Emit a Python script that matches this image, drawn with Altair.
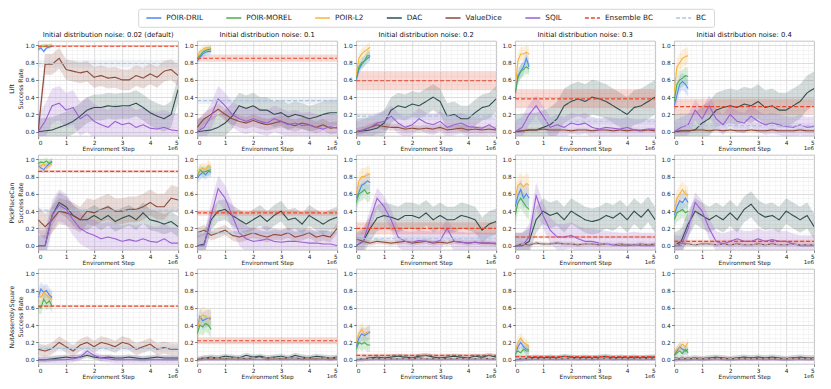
import altair as alt
import pandas as pd

FONT = "DejaVu Sans"
TASKS = ["Lift", "PickPlaceCan", "NutAssemblySquare"]
NOISES = ["0.02 (default)", "0.1", "0.2", "0.3", "0.4"]
SERIES = ["POIR-DRIL", "POIR-MOREL", "POIR-L2", "DAC", "ValueDice", "SQIL", "Ensemble BC", "BC"]
COLORS = ["#4f86f7", "#4cae4c", "#f8b341", "#2f4f4f", "#8c4a3b", "#9b5fd4", "#e8472d", "#b0c4de"]

X_LONG = [0.0, 0.25, 0.5, 0.75, 1.0, 1.25, 1.5, 1.75, 2.0, 2.25, 2.5, 2.75,
          3.0, 3.25, 3.5, 3.75, 4.0, 4.25, 4.5, 4.75, 5.0]
X_POIR = [0.0, 0.1, 0.2, 0.3, 0.4, 0.5]
X_FLAT = [0.0, 5.0]
X_TICKS = [0, 1, 2, 3, 4, 5]
Y_TICKS = [0.0, 0.2, 0.4, 0.6, 0.8, 1.0]
X_MINOR = [0.2, 0.4, 0.6, 0.8, 1.2, 1.4, 1.6, 1.8, 2.2, 2.4, 2.6, 2.8,
           3.2, 3.4, 3.6, 3.8, 4.2, 4.4, 4.6, 4.8]
Y_MINOR = [-0.05, 0.05, 0.1, 0.15, 0.25, 0.3, 0.35, 0.45, 0.5, 0.55, 0.65, 0.7,
           0.75, 0.85, 0.9, 0.95, 1.05]

# ---------------- Lift ----------------
LIFT_POIR_DRIL = [
    [0.95, 0.97, 0.93, 0.97, 0.98, 0.99],
    [0.82, 0.86, 0.90, 0.92, 0.93, 0.93],
    [0.60, 0.72, 0.78, 0.82, 0.85, 0.87],
    [0.45, 0.65, 0.70, 0.75, 0.85, 0.75],
    [0.30, 0.42, 0.55, 0.58, 0.55, 0.50],
]
LIFT_POIR_MOREL = [
    [0.98, 0.99, 0.99, 1.00, 0.99, 1.00],
    [0.85, 0.88, 0.92, 0.94, 0.95, 0.96],
    [0.62, 0.75, 0.80, 0.82, 0.88, 0.88],
    [0.45, 0.62, 0.70, 0.72, 0.75, 0.73],
    [0.35, 0.55, 0.60, 0.62, 0.65, 0.64],
]
LIFT_POIR_L2 = [
    [0.97, 0.99, 1.00, 0.99, 1.00, 1.00],
    [0.86, 0.93, 0.95, 0.97, 0.97, 0.97],
    [0.65, 0.85, 0.90, 0.93, 0.95, 0.98],
    [0.50, 0.82, 0.90, 0.90, 0.92, 0.90],
    [0.45, 0.75, 0.80, 0.85, 0.87, 0.88],
]
LIFT_DAC = [
    [0.00, 0.01, 0.02, 0.05, 0.08, 0.12, 0.18, 0.25, 0.28, 0.28, 0.30, 0.29, 0.30, 0.30, 0.33, 0.28, 0.22, 0.18, 0.15, 0.20, 0.49],
    [0.00, 0.01, 0.02, 0.05, 0.10, 0.18, 0.30, 0.27, 0.30, 0.25, 0.25, 0.20, 0.22, 0.17, 0.20, 0.18, 0.15, 0.17, 0.20, 0.22, 0.22],
    [0.00, 0.01, 0.02, 0.04, 0.10, 0.25, 0.30, 0.28, 0.32, 0.30, 0.35, 0.40, 0.35, 0.18, 0.20, 0.15, 0.15, 0.22, 0.28, 0.30, 0.38],
    [0.00, 0.01, 0.02, 0.02, 0.05, 0.08, 0.15, 0.30, 0.35, 0.38, 0.35, 0.40, 0.38, 0.35, 0.30, 0.25, 0.20, 0.28, 0.30, 0.35, 0.40],
    [0.00, 0.01, 0.01, 0.02, 0.10, 0.15, 0.25, 0.28, 0.30, 0.28, 0.32, 0.30, 0.35, 0.28, 0.30, 0.25, 0.25, 0.30, 0.35, 0.45, 0.50],
]
LIFT_VALUEDICE = [
    [0.00, 0.78, 0.78, 0.85, 0.72, 0.70, 0.68, 0.70, 0.63, 0.65, 0.62, 0.63, 0.60, 0.60, 0.65, 0.62, 0.67, 0.63, 0.70, 0.72, 0.65],
    [0.05, 0.15, 0.20, 0.26, 0.20, 0.15, 0.12, 0.10, 0.13, 0.10, 0.08, 0.10, 0.12, 0.09, 0.07, 0.10, 0.08, 0.05, 0.08, 0.04, 0.05],
    [0.00, 0.02, 0.05, 0.08, 0.06, 0.05, 0.05, 0.03, 0.04, 0.03, 0.04, 0.03, 0.05, 0.02, 0.03, 0.04, 0.02, 0.03, 0.02, 0.03, 0.02],
    [0.00, 0.01, 0.02, 0.02, 0.03, 0.02, 0.02, 0.02, 0.01, 0.02, 0.02, 0.01, 0.02, 0.02, 0.01, 0.02, 0.01, 0.02, 0.01, 0.02, 0.01],
    [0.00, 0.01, 0.01, 0.02, 0.02, 0.01, 0.02, 0.01, 0.02, 0.01, 0.01, 0.02, 0.01, 0.01, 0.02, 0.01, 0.01, 0.01, 0.02, 0.01, 0.01],
]
LIFT_SQIL = [
    [0.00, 0.12, 0.30, 0.33, 0.25, 0.28, 0.15, 0.20, 0.12, 0.08, 0.05, 0.12, 0.08, 0.10, 0.05, 0.08, 0.04, 0.03, 0.05, 0.02, 0.01],
    [0.00, 0.05, 0.18, 0.38, 0.30, 0.20, 0.15, 0.12, 0.15, 0.12, 0.10, 0.15, 0.12, 0.08, 0.10, 0.07, 0.08, 0.05, 0.03, 0.06, 0.04],
    [0.00, 0.02, 0.05, 0.10, 0.12, 0.18, 0.10, 0.05, 0.08, 0.15, 0.10, 0.08, 0.12, 0.05, 0.08, 0.10, 0.06, 0.05, 0.04, 0.08, 0.03],
    [0.00, 0.05, 0.20, 0.30, 0.18, 0.05, 0.08, 0.05, 0.10, 0.08, 0.10, 0.05, 0.03, 0.05, 0.04, 0.03, 0.05, 0.02, 0.02, 0.03, 0.03],
    [0.00, 0.05, 0.08, 0.25, 0.15, 0.30, 0.15, 0.08, 0.20, 0.12, 0.10, 0.18, 0.12, 0.08, 0.10, 0.08, 0.06, 0.05, 0.08, 0.05, 0.06],
]
LIFT_ENSEMBLE_BC = [0.99, 0.85, 0.59, 0.38, 0.29]
LIFT_BC = [0.79, 0.36, 0.18, 0.12, 0.07]
LIFT_SPREAD_POIR = [0.02, 0.04, 0.06, 0.08, 0.10]
LIFT_SPREAD_DAC = [0.15, 0.15, 0.15, 0.20, 0.20]
LIFT_SPREAD_VALUEDICE = [0.12, 0.07, 0.04, 0.02, 0.02]
LIFT_SPREAD_SQIL = [0.20, 0.15, 0.12, 0.12, 0.12]
LIFT_SPREAD_ENSEMBLE_BC = [0.01, 0.04, 0.11, 0.11, 0.09]
LIFT_SPREAD_BC = [0.04, 0.04, 0.04, 0.04, 0.03]

# ---------------- PickPlaceCan ----------------
PICK_POIR_DRIL = [
    [0.93, 0.90, 0.88, 0.92, 0.95, 0.97],
    [0.78, 0.82, 0.85, 0.82, 0.86, 0.85],
    [0.55, 0.62, 0.70, 0.72, 0.75, 0.73],
    [0.45, 0.58, 0.65, 0.55, 0.60, 0.55],
    [0.35, 0.45, 0.52, 0.50, 0.55, 0.50],
]
PICK_POIR_MOREL = [
    [0.95, 0.97, 0.96, 0.98, 0.95, 0.98],
    [0.80, 0.88, 0.85, 0.86, 0.87, 0.88],
    [0.50, 0.60, 0.62, 0.65, 0.60, 0.62],
    [0.35, 0.50, 0.55, 0.50, 0.45, 0.42],
    [0.30, 0.38, 0.40, 0.42, 0.38, 0.40],
]
PICK_POIR_L2 = [
    [0.93, 0.92, 0.95, 0.90, 0.93, 0.95],
    [0.82, 0.88, 0.90, 0.88, 0.93, 0.90],
    [0.60, 0.75, 0.80, 0.80, 0.82, 0.83],
    [0.55, 0.70, 0.72, 0.68, 0.72, 0.70],
    [0.40, 0.55, 0.60, 0.65, 0.60, 0.58],
]
PICK_DAC = [
    [0.00, 0.00, 0.35, 0.50, 0.45, 0.35, 0.30, 0.30, 0.35, 0.30, 0.35, 0.28, 0.32, 0.35, 0.30, 0.38, 0.30, 0.28, 0.25, 0.28, 0.22],
    [0.00, 0.02, 0.30, 0.40, 0.42, 0.35, 0.30, 0.25, 0.30, 0.35, 0.28, 0.35, 0.40, 0.30, 0.32, 0.25, 0.35, 0.30, 0.25, 0.30, 0.33],
    [0.00, 0.05, 0.20, 0.32, 0.35, 0.33, 0.30, 0.35, 0.35, 0.32, 0.38, 0.30, 0.35, 0.30, 0.30, 0.35, 0.33, 0.30, 0.18, 0.25, 0.28],
    [0.00, 0.00, 0.05, 0.30, 0.40, 0.35, 0.38, 0.30, 0.40, 0.35, 0.30, 0.28, 0.30, 0.35, 0.32, 0.38, 0.30, 0.40, 0.33, 0.42, 0.30],
    [0.00, 0.05, 0.25, 0.40, 0.35, 0.30, 0.35, 0.30, 0.38, 0.30, 0.42, 0.48, 0.38, 0.33, 0.35, 0.30, 0.40, 0.35, 0.30, 0.35, 0.22],
]
PICK_VALUEDICE = [
    [0.30, 0.22, 0.30, 0.40, 0.38, 0.35, 0.30, 0.40, 0.38, 0.42, 0.45, 0.40, 0.40, 0.42, 0.42, 0.45, 0.50, 0.45, 0.45, 0.55, 0.53],
    [0.15, 0.18, 0.12, 0.15, 0.18, 0.12, 0.10, 0.12, 0.15, 0.12, 0.10, 0.13, 0.12, 0.15, 0.10, 0.12, 0.15, 0.10, 0.12, 0.10, 0.20],
    [0.08, 0.05, 0.03, 0.05, 0.04, 0.03, 0.04, 0.05, 0.03, 0.04, 0.05, 0.03, 0.04, 0.03, 0.05, 0.04, 0.03, 0.04, 0.03, 0.03, 0.02],
    [0.00, 0.02, 0.01, 0.03, 0.02, 0.02, 0.03, 0.02, 0.02, 0.01, 0.02, 0.02, 0.01, 0.02, 0.01, 0.02, 0.01, 0.01, 0.02, 0.01, 0.02],
    [0.01, 0.02, 0.02, 0.01, 0.02, 0.02, 0.01, 0.02, 0.01, 0.02, 0.01, 0.01, 0.02, 0.01, 0.02, 0.01, 0.01, 0.02, 0.01, 0.01, 0.01],
]
PICK_SQIL = [
    [0.00, 0.00, 0.35, 0.47, 0.42, 0.30, 0.20, 0.15, 0.12, 0.08, 0.10, 0.08, 0.05, 0.07, 0.05, 0.08, 0.05, 0.04, 0.08, 0.03, 0.03],
    [0.00, 0.00, 0.35, 0.66, 0.55, 0.35, 0.15, 0.08, 0.05, 0.06, 0.08, 0.05, 0.04, 0.05, 0.05, 0.04, 0.03, 0.03, 0.02, 0.02, 0.00],
    [0.00, 0.05, 0.30, 0.55, 0.45, 0.30, 0.10, 0.05, 0.04, 0.06, 0.05, 0.04, 0.06, 0.20, 0.05, 0.04, 0.03, 0.04, 0.03, 0.03, 0.03],
    [0.00, 0.00, 0.10, 0.58, 0.35, 0.18, 0.10, 0.10, 0.12, 0.08, 0.05, 0.05, 0.03, 0.02, 0.01, 0.00, 0.00, 0.01, 0.00, 0.00, 0.00],
    [0.00, 0.00, 0.20, 0.50, 0.40, 0.20, 0.05, 0.02, 0.05, 0.08, 0.05, 0.05, 0.08, 0.05, 0.07, 0.05, 0.05, 0.02, 0.00, 0.00, 0.00],
]
PICK_ENSEMBLE_BC = [0.86, 0.38, 0.20, 0.10, 0.05]
PICK_BC = [0.41, 0.15, 0.08, 0.02, 0.01]
PICK_SPREAD_POIR = [0.04, 0.06, 0.10, 0.12, 0.10]
PICK_SPREAD_DAC = [0.12, 0.12, 0.15, 0.15, 0.15]
PICK_SPREAD_VALUEDICE = [0.15, 0.06, 0.03, 0.02, 0.02]
PICK_SPREAD_SQIL = [0.18, 0.15, 0.12, 0.15, 0.12]
PICK_SPREAD_ENSEMBLE_BC = [0.015, 0.03, 0.07, 0.015, 0.02]
PICK_SPREAD_BC = [0.02, 0.02, 0.03, 0.01, 0.01]

# ---------------- NutAssemblySquare ----------------
NUT_POIR_DRIL = [
    [0.72, 0.82, 0.78, 0.80, 0.75, 0.72],
    [0.35, 0.50, 0.45, 0.47, 0.48, 0.47],
    [0.15, 0.25, 0.30, 0.28, 0.30, 0.32],
    [0.05, 0.15, 0.20, 0.15, 0.12, 0.12],
    [0.05, 0.10, 0.15, 0.12, 0.10, 0.12],
]
NUT_POIR_MOREL = [
    [0.62, 0.60, 0.70, 0.65, 0.68, 0.62],
    [0.30, 0.40, 0.38, 0.42, 0.40, 0.35],
    [0.12, 0.20, 0.18, 0.20, 0.17, 0.17],
    [0.08, 0.10, 0.08, 0.12, 0.10, 0.10],
    [0.05, 0.08, 0.10, 0.07, 0.12, 0.08],
]
NUT_POIR_L2 = [
    [0.75, 0.72, 0.78, 0.75, 0.72, 0.70],
    [0.35, 0.48, 0.52, 0.50, 0.48, 0.50],
    [0.20, 0.30, 0.35, 0.30, 0.32, 0.33],
    [0.08, 0.20, 0.25, 0.20, 0.18, 0.15],
    [0.08, 0.12, 0.15, 0.18, 0.15, 0.20],
]
NUT_DAC = [
    [0.00, 0.00, 0.01, 0.02, 0.03, 0.02, 0.03, 0.05, 0.03, 0.02, 0.03, 0.02, 0.02, 0.03, 0.02, 0.01, 0.02, 0.03, 0.02, 0.02, 0.02],
    [0.00, 0.02, 0.03, 0.02, 0.04, 0.03, 0.02, 0.05, 0.03, 0.04, 0.02, 0.03, 0.04, 0.02, 0.05, 0.03, 0.02, 0.04, 0.03, 0.02, 0.03],
    [0.00, 0.01, 0.02, 0.03, 0.02, 0.03, 0.04, 0.03, 0.02, 0.04, 0.05, 0.03, 0.02, 0.03, 0.04, 0.03, 0.02, 0.04, 0.03, 0.05, 0.03],
    [0.00, 0.01, 0.02, 0.03, 0.02, 0.03, 0.02, 0.04, 0.03, 0.02, 0.03, 0.02, 0.03, 0.04, 0.02, 0.03, 0.02, 0.03, 0.02, 0.03, 0.03],
    [0.00, 0.01, 0.01, 0.02, 0.01, 0.02, 0.03, 0.02, 0.01, 0.02, 0.03, 0.02, 0.03, 0.02, 0.03, 0.02, 0.01, 0.02, 0.03, 0.02, 0.02],
]
NUT_VALUEDICE = [
    [0.12, 0.10, 0.13, 0.20, 0.15, 0.10, 0.17, 0.20, 0.15, 0.20, 0.18, 0.15, 0.20, 0.18, 0.12, 0.15, 0.18, 0.12, 0.14, 0.12, 0.12],
    [0.01, 0.02, 0.01, 0.02, 0.01, 0.02, 0.02, 0.01, 0.02, 0.03, 0.01, 0.02, 0.01, 0.02, 0.02, 0.01, 0.02, 0.01, 0.02, 0.01, 0.02],
    [0.00, 0.01, 0.02, 0.01, 0.02, 0.01, 0.01, 0.02, 0.01, 0.02, 0.01, 0.01, 0.02, 0.01, 0.01, 0.02, 0.01, 0.01, 0.02, 0.01, 0.01],
    [0.00, 0.01, 0.01, 0.01, 0.02, 0.01, 0.01, 0.01, 0.02, 0.01, 0.01, 0.01, 0.01, 0.02, 0.01, 0.01, 0.01, 0.01, 0.02, 0.01, 0.01],
    [0.00, 0.01, 0.01, 0.01, 0.01, 0.01, 0.02, 0.01, 0.01, 0.01, 0.01, 0.02, 0.01, 0.01, 0.01, 0.01, 0.01, 0.02, 0.01, 0.01, 0.01],
]
NUT_SQIL = [
    [0.00, 0.00, 0.00, 0.00, 0.00, 0.01, 0.03, 0.10, 0.05, 0.02, 0.01, 0.00, 0.00, 0.00, 0.00, 0.00, 0.00, 0.00, 0.00, 0.00, 0.00],
    [0.00, 0.00, 0.00, 0.00, 0.00, 0.00, 0.00, 0.00, 0.00, 0.00, 0.00, 0.00, 0.00, 0.00, 0.00, 0.00, 0.00, 0.00, 0.00, 0.00, 0.00],
    [0.00, 0.00, 0.00, 0.00, 0.00, 0.00, 0.00, 0.00, 0.00, 0.00, 0.00, 0.00, 0.00, 0.00, 0.00, 0.00, 0.00, 0.00, 0.00, 0.00, 0.00],
    [0.00, 0.00, 0.00, 0.00, 0.00, 0.00, 0.00, 0.00, 0.00, 0.00, 0.00, 0.00, 0.00, 0.00, 0.00, 0.00, 0.00, 0.00, 0.00, 0.00, 0.00],
    [0.00, 0.00, 0.00, 0.00, 0.00, 0.00, 0.00, 0.00, 0.00, 0.00, 0.00, 0.00, 0.00, 0.00, 0.00, 0.00, 0.00, 0.00, 0.00, 0.00, 0.00],
]
NUT_ENSEMBLE_BC = [0.62, 0.22, 0.05, 0.035, 0.02]
NUT_BC = [0.13, 0.02, 0.01, 0.01, 0.01]
NUT_SPREAD_POIR = [0.08, 0.10, 0.08, 0.06, 0.05]
NUT_SPREAD_DAC = [0.03, 0.03, 0.03, 0.03, 0.03]
NUT_SPREAD_VALUEDICE = [0.07, 0.02, 0.01, 0.01, 0.01]
NUT_SPREAD_SQIL = [0.04, 0.0, 0.0, 0.0, 0.0]
NUT_SPREAD_ENSEMBLE_BC = [0.01, 0.04, 0.02, 0.015, 0.015]
NUT_SPREAD_BC = [0.03, 0.01, 0.01, 0.01, 0.01]

# ---------------- assemble table ----------------
TABLES = {
    "Lift": (LIFT_POIR_DRIL, LIFT_POIR_MOREL, LIFT_POIR_L2, LIFT_DAC, LIFT_VALUEDICE, LIFT_SQIL,
             LIFT_ENSEMBLE_BC, LIFT_BC, LIFT_SPREAD_POIR, LIFT_SPREAD_DAC, LIFT_SPREAD_VALUEDICE,
             LIFT_SPREAD_SQIL, LIFT_SPREAD_ENSEMBLE_BC, LIFT_SPREAD_BC),
    "PickPlaceCan": (PICK_POIR_DRIL, PICK_POIR_MOREL, PICK_POIR_L2, PICK_DAC, PICK_VALUEDICE, PICK_SQIL,
                     PICK_ENSEMBLE_BC, PICK_BC, PICK_SPREAD_POIR, PICK_SPREAD_DAC, PICK_SPREAD_VALUEDICE,
                     PICK_SPREAD_SQIL, PICK_SPREAD_ENSEMBLE_BC, PICK_SPREAD_BC),
    "NutAssemblySquare": (NUT_POIR_DRIL, NUT_POIR_MOREL, NUT_POIR_L2, NUT_DAC, NUT_VALUEDICE, NUT_SQIL,
                          NUT_ENSEMBLE_BC, NUT_BC, NUT_SPREAD_POIR, NUT_SPREAD_DAC, NUT_SPREAD_VALUEDICE,
                          NUT_SPREAD_SQIL, NUT_SPREAD_ENSEMBLE_BC, NUT_SPREAD_BC),
}

rows = []


def add(task, ni, name, xs, ys, spread):
    for x, y in zip(xs, ys):
        rows.append({"task": task, "noise": ni, "series": name, "x": x, "y": y,
                     "lo": y - spread, "hi": y + spread})


for task in TASKS:
    (dril, morel, l2, dac, vd, sqil, ens, bc, sp_p, sp_d, sp_v, sp_s, sp_e, sp_b) = TABLES[task]
    for ni in range(5):
        add(task, ni, "POIR-DRIL", X_POIR, dril[ni], sp_p[ni])
        add(task, ni, "POIR-MOREL", X_POIR, morel[ni], sp_p[ni])
        add(task, ni, "POIR-L2", X_POIR, l2[ni], sp_p[ni])
        add(task, ni, "DAC", X_LONG, dac[ni], sp_d[ni])
        add(task, ni, "ValueDice", X_LONG, vd[ni], sp_v[ni])
        add(task, ni, "SQIL", X_LONG, sqil[ni], sp_s[ni])
        add(task, ni, "Ensemble BC", X_FLAT, [ens[ni], ens[ni]], sp_e[ni])
        add(task, ni, "BC", X_FLAT, [bc[ni], bc[ni]], sp_b[ni])

df = pd.DataFrame(rows)

W, H = 140, 95
color_scale = alt.Scale(domain=SERIES, range=COLORS)
dash_scale = alt.Scale(domain=SERIES, range=[[1, 0]] * 6 + [[4, 2], [4, 2]])

# ---------------- legend row (layout computed from label lengths) ----------------
LEG_FONT = 7.3
SYM_LEN, SYM_GAP, ENTRY_GAP, LEG_PAD = 15.0, 5.0, 23.0, 8.0
CHAR_EM = {"P": .603, "O": .787, "I": .295, "R": .695, "-": .361, "D": .770, "L": .557,
           "M": .863, "E": .632, "2": .636, "A": .684, "C": .698, "V": .684, "a": .613,
           "l": .278, "u": .634, "e": .615, "i": .278, "c": .550, "S": .635, "Q": .787,
           "n": .634, "s": .521, "m": .974, "b": .635, " ": .318, "B": .686}
leg_rows = []
pos = LEG_PAD
for s in SERIES:
    tw = sum(CHAR_EM.get(ch, 0.6) for ch in s) * LEG_FONT
    leg_rows.append({"series": s, "xs": pos, "xe": pos + SYM_LEN, "xt": pos + SYM_LEN + SYM_GAP})
    pos += SYM_LEN + SYM_GAP + tw + ENTRY_GAP
LEG_W = pos - ENTRY_GAP + LEG_PAD
LEG_H = 18
leg_df = pd.DataFrame(leg_rows)
leg_x = alt.Scale(domain=[0, LEG_W], nice=False, zero=False)
leg_sym = alt.Chart(leg_df).mark_rule(strokeWidth=1.5).encode(
    x=alt.X("xs:Q", scale=leg_x, axis=None),
    x2="xe:Q",
    y=alt.value(LEG_H / 2),
    color=alt.Color("series:N", scale=color_scale, legend=None),
    strokeDash=alt.StrokeDash("series:N", scale=dash_scale, legend=None),
)
leg_txt = alt.Chart(leg_df).mark_text(align="left", baseline="middle", fontSize=LEG_FONT,
                                      font=FONT, color="#222").encode(
    x=alt.X("xt:Q", scale=leg_x, axis=None),
    y=alt.value(LEG_H / 2),
    text="series:N",
)
legend = alt.layer(leg_sym, leg_txt).properties(
    width=LEG_W, height=LEG_H,
    view=alt.ViewBackground(stroke="#cccccc", strokeWidth=0.8, cornerRadius=2),
)


def panel(ti, ni):
    task = TASKS[ti]
    d = df[(df.task == task) & (df.noise == ni)]
    xsc = alt.Scale(domain=[0, 5], nice=False, zero=False)
    ysc = alt.Scale(domain=[-0.05, 1.05], nice=False, zero=False)
    minor_x = alt.Axis(orient="top", values=X_MINOR, grid=True, labels=False, ticks=False,
                       domain=False, title=None, gridColor="#efefef", gridWidth=0.6)
    minor_y = alt.Axis(orient="right", values=Y_MINOR, grid=True, labels=False, ticks=False,
                       domain=False, title=None, gridColor="#efefef", gridWidth=0.6)
    major_x = alt.Axis(values=X_TICKS, format="d", grid=True, gridColor="#d6d6d6", gridWidth=0.8,
                       domain=False, tickColor="#444", tickSize=2.5, tickWidth=0.7,
                       labelFontSize=5.8, labelFont=FONT, labelColor="#222", labelPadding=1,
                       title="Environment Step", titleFontSize=5.8, titleFont=FONT,
                       titleFontWeight="normal", titleColor="#222", titlePadding=0)
    ytitle = [task, "Success Rate"] if ni == 0 else None
    major_y = alt.Axis(values=Y_TICKS, format=".1f", grid=True, gridColor="#d6d6d6", gridWidth=0.8,
                       domain=False, tickColor="#444", tickSize=2.5, tickWidth=0.7,
                       labelFontSize=5.8, labelFont=FONT, labelColor="#222", labelPadding=1.5,
                       title=ytitle, titleFontSize=6.2, titleFont=FONT, titleFontWeight="normal",
                       titleColor="#222", titlePadding=1, titleLineHeight=9.5)
    band = alt.Chart(d).mark_area(fillOpacity=0.2, clip=True).encode(
        x=alt.X("x:Q", scale=xsc, axis=minor_x),
        y=alt.Y("lo:Q", scale=ysc, axis=minor_y),
        y2="hi:Q",
        fill=alt.Fill("series:N", scale=color_scale, legend=None),
    )
    line = alt.Chart(d).mark_line(strokeWidth=1.1, clip=True).encode(
        x=alt.X("x:Q", scale=xsc, axis=major_x),
        y=alt.Y("y:Q", scale=ysc, axis=major_y),
        color=alt.Color("series:N", scale=color_scale, legend=None),
        strokeDash=alt.StrokeDash("series:N", scale=dash_scale, legend=None),
    )
    note = alt.Chart(pd.DataFrame({"t": ["1e6"]})).mark_text(
        align="right", baseline="top", fontSize=5.5, font=FONT, color="#222"
    ).encode(text="t:N", x=alt.value(W), y=alt.value(H + 10))
    lay = alt.layer(band, line, note).resolve_axis(x="independent", y="independent")
    props = {"width": W, "height": H,
             "view": alt.ViewBackground(stroke="#8c8c8c", strokeWidth=0.8)}
    if ti == 0:
        props["title"] = alt.TitleParams("Initial distribution noise: " + NOISES[ni], fontSize=6.8,
                                         font=FONT, fontWeight="normal", color="#111", offset=2)
    return lay.properties(**props)


panels = [panel(ti, ni) for ti in range(3) for ni in range(5)]
grid = alt.concat(*panels, columns=5, spacing={"row": 2, "column": 4}, align="each")
chart = alt.vconcat(legend, grid, spacing=3, center=True).properties(
    padding=0
).configure(font=FONT)

chart.save("out.html", embed_options={"renderer": "svg", "actions": False})
